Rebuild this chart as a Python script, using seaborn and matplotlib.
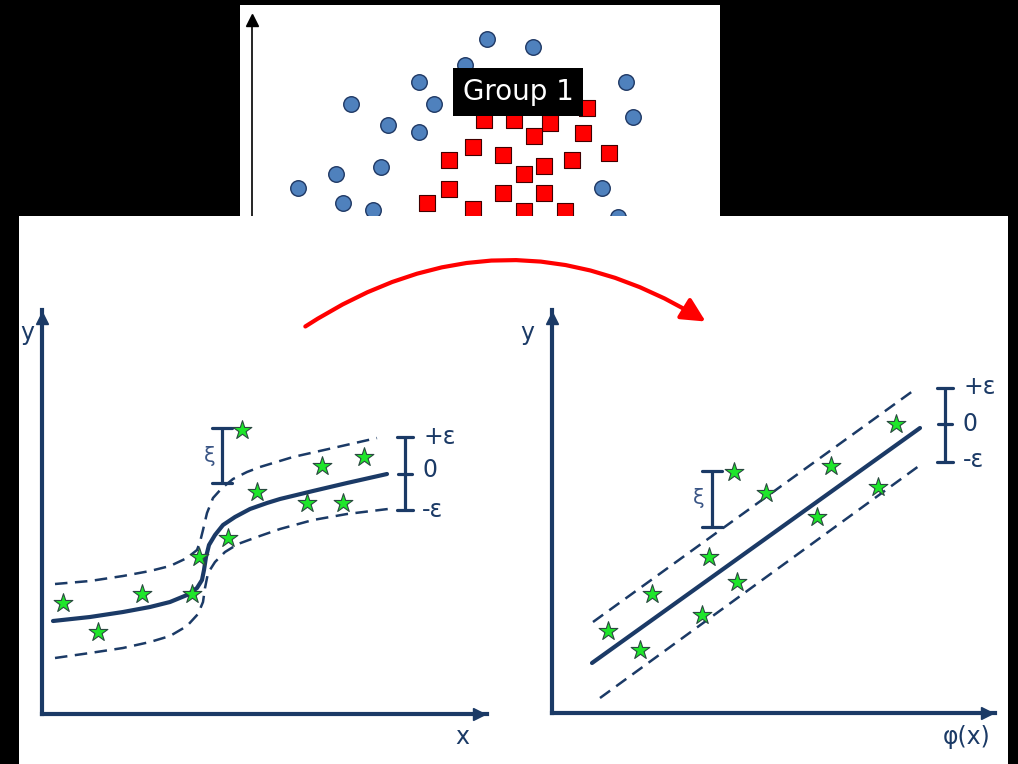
import numpy as np
import pandas as pd
import matplotlib.pyplot as plt
import seaborn as sns
from matplotlib.patches import FancyArrowPatch

# --- top panel: two classes of points ---
circle_x = [235, 281, 213, 167, 374, 99, 182, 381, 136, 167, 129, 84, 46, 350, 91, 121, 366]
circle_y = [176, 168, 150, 133, 133, 111, 111, 98, 90, 83, 48, 41, 27, 27, 12, 5, -2]
square_x = [335, 232, 262, 298, 282, 331, 221, 197, 251, 357, 292, 320, 272, 197, 251, 292, 175, 221, 272, 313]
square_y = [107, 95, 95, 92, 79, 82, 68, 55, 60, 62, 49, 55, 41, 26, 22, 22, 12, 6, 4, 4]

# --- left panel: non-linear regression with epsilon tube ---
curve_x = [11, 48, 81, 108, 128, 145, 155, 160, 162, 164, 167, 173, 181, 193, 208, 225, 238, 271, 305, 345]
curve_y = [93, 97, 102, 107, 112, 119, 126, 134, 144, 157, 169, 179, 189, 197, 205, 211, 215, 223, 231, 240]
upper_x = [13, 48, 81, 108, 128, 145, 155, 158, 161, 165, 171, 180, 191, 205, 218, 251, 291, 335]
upper_y = [130, 133, 138, 143, 148, 156, 164, 172, 184, 201, 216, 226, 235, 242, 247, 257, 266, 276]
lower_x = [13, 48, 81, 108, 128, 145, 156, 161, 163, 166, 173, 183, 196, 215, 238, 271, 305, 346]
lower_y = [56, 61, 66, 72, 78, 88, 100, 112, 126, 141, 152, 162, 170, 177, 185, 194, 200, 205]
star_x = [21, 56, 100, 150, 157, 186, 200, 215, 265, 280, 301, 322]
star_y = [111, 82, 120, 120, 157, 176, 284, 222, 211, 248, 211, 257]

# --- right panel: linear regression in feature space ---
line_x = [40, 368]
line_y = [50, 285]
rupper_x = [41, 365]
rupper_y = [91, 325]
rlower_x = [48, 371]
rlower_y = [15, 250]
rstar_x = [56, 88, 100, 150, 157, 185, 182, 214, 265, 279, 326, 344]
rstar_y = [82, 63, 119, 98, 156, 131, 241, 220, 196, 247, 226, 289]

navy = '#1b3a66'
W, H = 1018, 764

sns.set_style('white')
plt.rcParams['font.family'] = ['DejaVu Sans']

fig = plt.figure(figsize=(W / 100, H / 100), dpi=100, facecolor='black')


def add_ax(l, t, r, b):
    return fig.add_axes([l / W, 1 - b / H, (r - l) / W, (b - t) / H])


def bare(ax):
    ax.set_xticks([])
    ax.set_yticks([])
    for s in ax.spines.values():
        s.set_visible(False)


# top panel
ax_top = add_ax(240, 5, 720, 216)
ax_top.set_facecolor('white')
bare(ax_top)
ax_top.set_xlim(-12, 468)
ax_top.set_ylim(-1, 210)
ax_top.plot([0, 0], [-1, 195], color='black', lw=1.2)
ax_top.plot([0], [195], marker='^', ms=8, color='black', clip_on=False)
sns.scatterplot(x=circle_x, y=circle_y, marker='o', s=125, color='#4F81BD',
                edgecolor='#1F3864', linewidth=1, ax=ax_top)
sns.scatterplot(x=square_x, y=square_y, marker='s', s=120, color='#FF0000',
                edgecolor='#400000', linewidth=0.8, ax=ax_top)
ax_top.text(266, 123, 'Group 1', color='white', fontsize=20, ha='center', va='center',
            bbox=dict(boxstyle='square,pad=0.35', fc='black', ec='none'), zorder=5)

# lower white panel + red arrow
ax_bg = add_ax(19, 216, 1008, 764)
ax_bg.set_facecolor('white')
bare(ax_bg)
ax_bg.set_xlim(19, 1008)
ax_bg.set_ylim(764, 216)
ax_bg.add_patch(FancyArrowPatch((303, 328), (708, 323), connectionstyle='arc3,rad=-0.32',
                                arrowstyle='-|>,head_length=0.9,head_width=0.45',
                                mutation_scale=16, color='red', lw=3))


def panel(l, t, r, b):
    ax = add_ax(l, t, r, b)
    ax.set_facecolor('none')
    ax.set_xticks([])
    ax.set_yticks([])
    sns.despine(ax=ax)
    for s in ['left', 'bottom']:
        ax.spines[s].set_color(navy)
        ax.spines[s].set_linewidth(3)
    ax.set_xlim(0, r - l)
    ax.set_ylim(0, b - t)
    ax.plot([r - l - 8], [0], marker='>', ms=9, color=navy, clip_on=False)
    ax.plot([0], [b - t - 8], marker='^', ms=9, color=navy, clip_on=False)
    return ax


def bracket(ax, x, y0, y1, w, mid=None):
    ax.plot([x, x], [y0, y1], color=navy, lw=2.3, solid_capstyle='butt')
    for yy in (y0, y1):
        ax.plot([x - w, x + w], [yy, yy], color=navy, lw=2.3)
    if mid is not None:
        ax.plot([x - w + 1, x + w - 1], [mid, mid], color=navy, lw=2.3)


dash = (0, (5, 3))
txt = dict(color=navy, fontsize=17, va='center')
star_kw = dict(marker='*', s=200, color='#1ee62a', edgecolor='#2a4a40', linewidth=0.8, zorder=4)

# left panel
ax1 = panel(42, 310, 487, 714)
sns.lineplot(x=curve_x, y=curve_y, sort=False, estimator=None, color=navy, lw=3, ax=ax1)
sns.lineplot(x=upper_x, y=upper_y, sort=False, estimator=None, color=navy, lw=1.8,
             linestyle=dash, ax=ax1)
sns.lineplot(x=lower_x, y=lower_y, sort=False, estimator=None, color=navy, lw=1.8,
             linestyle=dash, ax=ax1)
sns.scatterplot(x=star_x, y=star_y, ax=ax1, **star_kw)
bracket(ax1, 180, 231, 286, 10)
ax1.text(174, 258, 'ξ', color='#3a5585', fontsize=15, ha='right', va='center')
bracket(ax1, 363, 204, 277, 8, mid=240)
ax1.text(381, 277, '+ε', ha='left', **txt)
ax1.text(380, 244, '0', ha='left', **txt)
ax1.text(380, 204, '-ε', ha='left', **txt)
ax1.text(-15, 381, 'y', ha='center', **txt)
ax1.text(420, -23, 'x', ha='center', **txt)

# right panel
ax2 = panel(552, 310, 995, 713)
sns.lineplot(x=line_x, y=line_y, sort=False, estimator=None, color=navy, lw=3, ax=ax2)
sns.lineplot(x=rupper_x, y=rupper_y, sort=False, estimator=None, color=navy, lw=1.8,
             linestyle=dash, ax=ax2)
sns.lineplot(x=rlower_x, y=rlower_y, sort=False, estimator=None, color=navy, lw=1.8,
             linestyle=dash, ax=ax2)
sns.scatterplot(x=rstar_x, y=rstar_y, ax=ax2, **star_kw)
bracket(ax2, 160, 186, 242, 10)
ax2.text(153, 215, 'ξ', color='#3a5585', fontsize=15, ha='right', va='center')
bracket(ax2, 393, 251, 325, 8, mid=289)
ax2.text(411, 326, '+ε', ha='left', **txt)
ax2.text(411, 289, '0', ha='left', **txt)
ax2.text(411, 253, '-ε', ha='left', **txt)
ax2.text(-25, 380, 'y', ha='center', **txt)
ax2.text(415, -24, 'φ(x)', ha='center', **txt)

fig.savefig('out.png', dpi=100, facecolor='black')
